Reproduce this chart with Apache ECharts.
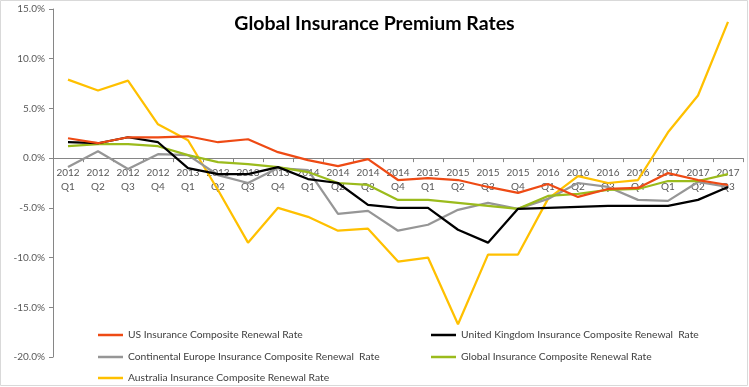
<!DOCTYPE html>
<html>
<head>
<meta charset="utf-8">
<script src="https://cdn.jsdelivr.net/npm/echarts@6/dist/echarts.min.js"></script>
<style>html,body{margin:0;padding:0;background:#fff;}#c{width:749px;height:387px;}</style>
</head>
<body>
<div id="c"></div>
<script>
const categories = ['2012 Q1','2012 Q2','2012 Q3','2012 Q4','2013 Q1','2013 Q2','2013 Q3','2013 Q4',
  '2014 Q1','2014 Q2','2014 Q3','2014 Q4','2015 Q1','2015 Q2','2015 Q3','2015 Q4',
  '2016 Q1','2016 Q2','2016 Q3','2016 Q4','2017 Q1','2017 Q2','2017 Q3'];
const usRate = [2.0,1.5,2.1,2.1,2.2,1.6,1.9,0.6,-0.2,-0.8,-0.1,-2.2,-2.0,-2.2,-2.9,-3.5,-2.6,-3.9,-3.1,-3.0,-1.5,-2.2,-2.7];
const ukRate = [1.6,1.5,2.1,1.6,-1.0,-1.6,-1.6,-0.9,-2.1,-2.5,-4.7,-5.0,-5.0,-7.2,-8.5,-5.1,-5.0,-4.9,-4.8,-4.8,-4.8,-4.2,-2.9];
const euRate = [-0.9,0.7,-1.1,0.4,0.3,-1.7,-2.5,-1.0,-1.2,-5.6,-5.3,-7.3,-6.7,-5.2,-4.5,-5.1,-4.1,-2.5,-2.9,-4.2,-4.3,-2.4,-2.9];
const globalRate = [1.2,1.4,1.4,1.2,0.3,-0.4,-0.6,-0.9,-1.4,-2.5,-2.7,-4.2,-4.2,-4.5,-4.8,-5.1,-3.8,-3.6,-3.2,-3.1,-2.3,-2.3,-1.6];
const auRate = [7.9,6.8,7.8,3.4,1.8,-3.2,-8.5,-5.0,-5.9,-7.3,-7.1,-10.4,-10.0,-16.7,-9.7,-9.7,-4.1,-1.8,-2.5,-2.2,2.6,6.3,13.7];
const seriesNames = ['US Insurance Composite Renewal Rate','United Kingdom Insurance Composite Renewal  Rate',
  'Continental Europe Insurance Composite Renewal  Rate','Global Insurance Composite Renewal Rate',
  'Australia Insurance Composite Renewal Rate'];
const yTicks = {min:-20, max:15, interval:5};

const FONT = 'Lato';
const colors = ['#EE4A14','#000000','#969696','#9BBB1C','#FFC000'];
const dataSets = [usRate, ukRate, euRate, globalRate, auRate];
const order = [4,2,3,1,0];
const series = order.map(i => ({
  name: seriesNames[i], type:'line', data: dataSets[i], symbol:'none', showSymbol:false,
  lineStyle:{color:colors[i], width:2.25}, itemStyle:{color:colors[i]}, z: 2,
  emphasis:{disabled:true}, animation:false
}));
const legendPos = [
  {left:98, top:330}, {left:431, top:330}, {left:98, top:352}, {left:431, top:352}, {left:98, top:373}
];
const legends = seriesNames.map((n,i)=>({
  data:[n], left:legendPos[i].left, top:legendPos[i].top, itemWidth:25, itemHeight:2.5, itemGap:0,
  icon:'rect',
  textStyle:{fontFamily:FONT, fontSize:10.3, color:'#404040'}, selectedMode:false, padding:0
}));
const H = 387, gridTop = 9, gridBottom = 30;
const plotH = H - gridTop - gridBottom;
// move the category axis up to the zero line of the value axis
const zeroOffset = -((0 - yTicks.min) / (yTicks.max - yTicks.min)) * plotH;
const chart = echarts.init(document.getElementById('c'), null, {renderer:'canvas'});
chart.setOption({
  animation:false,
  backgroundColor:'#fff',
  title:{text:'Global Insurance Premium Rates', left:'center', top:9,
    textStyle:{fontFamily:FONT, fontSize:19.5, fontWeight:'bold', color:'#000'}},
  graphic:[{type:'rect', shape:{x:0.5,y:0.5,width:747,height:385}, style:{fill:'none', stroke:'#d9d9d9', lineWidth:1}, silent:true}],
  legend: legends,
  grid:{left:53, right:6, top:gridTop, bottom:gridBottom, containLabel:false, outerBoundsMode:'none'},
  xAxis:{type:'category', data:categories, boundaryGap:true, position:'bottom', offset:zeroOffset,
    axisLine:{onZero:false, lineStyle:{color:'#868686', width:1}},
    axisTick:{show:true, length:4, lineStyle:{color:'#868686'}, alignWithLabel:false, interval:0},
    axisLabel:{interval:0, margin:8, fontFamily:FONT, fontSize:10, color:'#595959', lineHeight:14,
      formatter:v=>v.replace(' ','\n')},
    splitLine:{show:false}},
  yAxis:{type:'value', min:yTicks.min, max:yTicks.max, interval:yTicks.interval,
    axisLine:{show:true, lineStyle:{color:'#868686'}},
    axisTick:{show:true, length:4, lineStyle:{color:'#868686'}},
    axisLabel:{margin:8, fontFamily:FONT, fontSize:10, color:'#595959', formatter:v=>v.toFixed(1)+'%'},
    splitLine:{show:false}},
  series: series
});
</script>
</body>
</html>
